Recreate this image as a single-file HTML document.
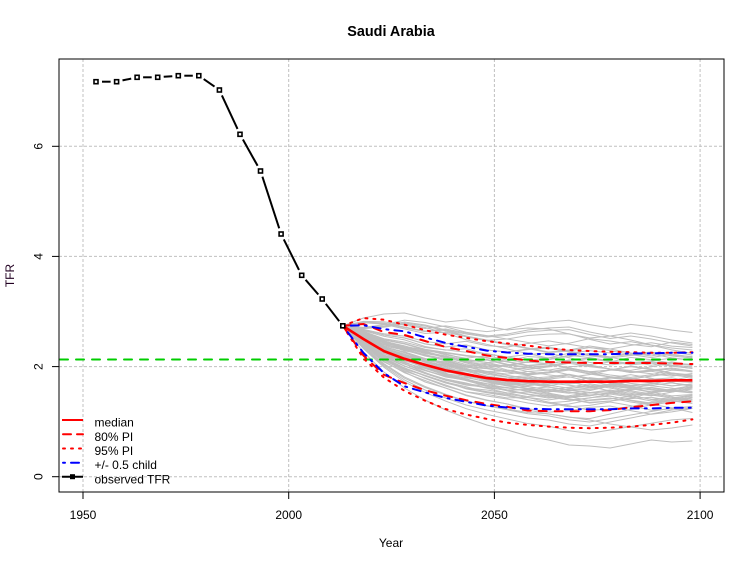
<!DOCTYPE html>
<html>
<head>
<meta charset="utf-8">
<style>
  html,body{margin:0;padding:0;background:#fff;}
  svg{display:block;}
  text{font-family:"Liberation Sans",Arial,sans-serif;fill:#000;}
  .gr polyline{fill:none;stroke:#bebebe;stroke-width:1;vector-effect:non-scaling-stroke;}
</style>
</head>
<body>
<svg width="755" height="566" viewBox="0 0 755 566" xmlns="http://www.w3.org/2000/svg">
  <rect x="0" y="0" width="755" height="566" fill="#fff"/>

  <!-- title -->
  <text x="391" y="36" text-anchor="middle" font-size="14.4" font-weight="bold">Saudi Arabia</text>

  <!-- grid -->
  <g stroke="#c0c0c0" stroke-width="1" stroke-dasharray="3 2" fill="none">
    <line x1="83" y1="59" x2="83" y2="492"/>
    <line x1="288.7" y1="59" x2="288.7" y2="492"/>
    <line x1="494.4" y1="59" x2="494.4" y2="492"/>
    <line x1="700.1" y1="59" x2="700.1" y2="492"/>
    <line x1="59" y1="476.7" x2="724" y2="476.7"/>
    <line x1="59" y1="366.6" x2="724" y2="366.6"/>
    <line x1="59" y1="256.4" x2="724" y2="256.4"/>
    <line x1="59" y1="146.3" x2="724" y2="146.3"/>
  </g>

  <!-- gray trajectories -->
  <g class="gr">
    <polyline points="342.8,325.8 363.4,318 383.9,314 404.5,313 425.1,318 445.6,322 466.2,320 486.8,326 507.3,330 527.9,328 548.5,329 569,334 589.6,338 610.1,336 630.7,340 651.3,345 671.8,348 692.4,350"/>
    <polyline points="342.8,325.8 363.4,352 383.9,372 404.5,388 425.1,400 445.6,410 466.2,418 486.8,425 507.3,430 527.9,436 548.5,440 569,445 589.6,446 610.1,448 630.7,444 651.3,440 671.8,442 692.4,441"/>
    <polyline points="342.8,325.8 363.4,346 383.9,362 404.5,372 425.1,382 445.6,388 466.2,395 486.8,400 507.3,404 527.9,410 548.5,414 569,417 589.6,420 610.1,424 630.7,427 651.3,430 671.8,428 692.4,425"/>
  </g>
  <defs>
    <g id="traj" class="gr">
      <polyline points="342.8,325.8 363.4,322 383.9,323 404.5,327 425.1,331 445.6,329 466.2,333 486.8,336 507.3,334 527.9,330 548.5,328 569,327 589.6,332 610.1,336 630.7,333 651.3,336 671.8,340 692.4,343"/>
      <polyline points="342.8,325.8 363.4,330 383.9,335 404.5,338 425.1,344 445.6,347 466.2,345 486.8,350 507.3,352 527.9,349 548.5,347 569,351 589.6,355 610.1,357 630.7,354 651.3,352 671.8,356 692.4,358"/>
      <polyline points="342.8,325.8 363.4,334 383.9,342 404.5,349 425.1,352 445.6,358 466.2,362 486.8,360 507.3,365 527.9,368 548.5,366 569,362 589.6,365 610.1,369 630.7,372 651.3,370 671.8,368 692.4,371"/>
      <polyline points="342.8,325.8 363.4,338 383.9,348 404.5,354 425.1,362 445.6,365 466.2,370 486.8,376 507.3,379 527.9,377 548.5,381 569,384 589.6,382 610.1,378 630.7,380 651.3,383 671.8,386 692.4,384"/>
      <polyline points="342.8,325.8 363.4,341 383.9,355 404.5,362 425.1,370 445.6,377 466.2,380 486.8,384 507.3,388 527.9,391 548.5,389 569,392 589.6,395 610.1,393 630.7,390 651.3,388 671.8,391 692.4,393"/>
      <polyline points="342.8,325.8 363.4,344 383.9,360 404.5,371 425.1,378 445.6,385 466.2,392 486.8,396 507.3,399 527.9,403 548.5,406 569,404 589.6,400 610.1,398 630.7,402 651.3,405 671.8,402 692.4,398"/>
      <polyline points="342.8,325.8 363.4,348 383.9,366 404.5,380 425.1,390 445.6,398 466.2,405 486.8,410 507.3,414 527.9,418 548.5,420 569,424 589.6,426 610.1,422 630.7,418 651.3,414 671.8,410 692.4,408"/>
      <polyline points="342.8,325.8 363.4,336 383.9,346 404.5,350 425.1,356 445.6,360 466.2,366 486.8,368 507.3,372 527.9,375 548.5,373 569,370 589.6,374 610.1,377 630.7,379 651.3,376 671.8,373 692.4,375"/>
      <polyline points="342.8,325.8 363.4,340 383.9,352 404.5,361 425.1,366 445.6,372 466.2,375 486.8,381 507.3,385 527.9,384 548.5,387 569,390 589.6,388 610.1,385 630.7,387 651.3,390 671.8,392 692.4,389"/>
      <polyline points="342.8,325.8 363.4,332 383.9,340 404.5,344 425.1,350 445.6,353 466.2,356 486.8,358 507.3,362 527.9,366 548.5,364 569,360 589.6,358 610.1,361 630.7,364 651.3,362 671.8,365 692.4,367"/>
      <polyline points="342.8,325.8 363.4,328 383.9,326 404.5,322 425.1,325 445.6,330 466.2,336 486.8,340 507.3,344 527.9,348 548.5,352 569,350 589.6,346 610.1,349 630.7,353 651.3,356 671.8,352 692.4,355"/>
      <polyline points="342.8,325.8 363.4,337 383.9,349 404.5,357 425.1,361 445.6,366 466.2,371 486.8,373 507.3,377 527.9,380 548.5,378 569,375 589.6,379 610.1,383 630.7,386 651.3,384 671.8,380 692.4,382"/>
      <polyline points="342.8,325.8 363.4,343 383.9,357 404.5,366 425.1,373 445.6,379 466.2,383 486.8,388 507.3,390 527.9,394 548.5,397 569,400 589.6,398 610.1,394 630.7,397 651.3,401 671.8,399 692.4,396"/>
      <polyline points="342.8,325.8 363.4,335 383.9,343 404.5,348 425.1,353 445.6,357 466.2,363 486.8,367 507.3,366 527.9,362 548.5,364 569,368 589.6,372 610.1,370 630.7,366 651.3,369 671.8,373 692.4,376"/>
      <polyline points="342.8,325.8 363.4,339 383.9,350 404.5,357 425.1,364 445.6,370 466.2,377 486.8,382 507.3,386 527.9,389 548.5,392 569,389 589.6,385 610.1,388 630.7,392 651.3,395 671.8,398 692.4,402"/>
      <polyline points="342.8,325.8 363.4,345 383.9,358 404.5,368 425.1,376 445.6,383 466.2,388 486.8,390 507.3,393 527.9,392 548.5,396 569,399 589.6,403 610.1,401 630.7,398 651.3,393 671.8,390 692.4,387"/>
    </g>
  </defs>
  <use href="#traj"/>
  <use href="#traj" transform="matrix(1,0.03,0,1,0,-10.28)"/>
  <use href="#traj" transform="matrix(1,-0.03,0,1,0,10.28)"/>
  <use href="#traj" transform="matrix(1,0.012,0,0.93,0,18.69)"/>

  <!-- green reference line -->
  <line x1="60" y1="359.5" x2="724" y2="359.5" stroke="#00cd00" stroke-width="2" stroke-dasharray="8 8" stroke-linecap="round"/>

  <!-- 95% PI dotted -->
  <g fill="none" stroke="#ff0000" stroke-width="2" stroke-dasharray="2 6" stroke-linecap="round">
    <polyline points="342.8,325.8 363.4,318.1 383.9,319.7 404.5,324.7 425.1,330.2 445.6,334.6 466.2,337.9 486.8,341.2 507.3,343.4 527.9,345.6 548.5,348.4 569,350 589.6,351.1 610.1,351.7 630.7,352.2 651.3,352.8 671.8,352.8 692.4,352.2"/>
    <polyline points="342.8,325.8 363.4,358.3 383.9,377.6 404.5,390.8 425.1,400.7 445.6,409 466.2,414.5 486.8,418.9 507.3,422.7 527.9,424.9 548.5,426.6 569,427.7 589.6,428.2 610.1,427.7 630.7,426.6 651.3,424.9 671.8,422.7 692.4,419.4"/>
  </g>
  <!-- 80% PI dashed -->
  <g fill="none" stroke="#ff0000" stroke-width="2" stroke-dasharray="8 8" stroke-linecap="round">
    <polyline points="342.8,325.8 363.4,324 383.9,332 404.5,335 425.1,341 445.6,347 466.2,351 486.8,355.5 507.3,358 527.9,360.5 548.5,362 569,362.5 589.6,363 610.1,363 630.7,363 651.3,363 671.8,363.5 692.4,364"/>
    <polyline points="342.8,325.8 363.4,355.5 383.9,374.8 404.5,383.1 425.1,390.2 445.6,395.7 466.2,400.2 486.8,404 507.3,406.8 527.9,410.6 548.5,411.2 569,411.2 589.6,411.2 610.1,410.1 630.7,407.3 651.3,405.1 671.8,402.9 692.4,401.3"/>
  </g>
  <!-- +/- 0.5 child dot-dash -->
  <g fill="none" stroke="#0000ff" stroke-width="2" stroke-dasharray="2 6 8 6" stroke-linecap="round">
    <polyline points="342.8,325.8 363.4,325.2 383.9,329.1 404.5,331.3 425.1,337.4 445.6,342.9 466.2,346.8 486.8,350.6 507.3,352.5 527.9,353.7 548.5,354.2 569,354.2 589.6,354.2 610.1,354.2 630.7,353.4 651.3,353.4 671.8,352.8 692.4,352.8"/>
    <polyline points="342.8,325.8 363.4,352.8 383.9,373.1 404.5,386.3 425.1,392.4 445.6,397.9 466.2,401.8 486.8,405.6 507.3,407.5 527.9,408.7 548.5,409.2 569,409.2 589.6,409.2 610.1,409.2 630.7,408.4 651.3,408.4 671.8,407.8 692.4,407.8"/>
  </g>
  <!-- median -->
  <polyline fill="none" stroke="#ff0000" stroke-width="2.6" stroke-linejoin="round" points="342.8,325.8 363.4,339 383.9,351.1 404.5,358.8 425.1,364.9 445.6,370.4 466.2,374.3 486.8,378.1 507.3,380.05 527.9,381.2 548.5,381.7 569,381.7 589.6,381.7 610.1,381.7 630.7,380.9 651.3,380.9 671.8,380.3 692.4,380.3"/>

  <!-- observed TFR (type b) -->
  <g stroke="#000" stroke-width="2" stroke-linecap="butt" fill="none">
    <line x1="102" y1="81.7" x2="110.6" y2="81.7"/>
    <line x1="122.5" y1="80.4" x2="131.2" y2="78.6"/>
    <line x1="143.1" y1="77.3" x2="151.7" y2="77.3"/>
    <line x1="163.7" y1="76.8" x2="172.3" y2="76.2"/>
    <line x1="184.3" y1="75.7" x2="192.8" y2="75.7"/>
    <line x1="203.7" y1="79.1" x2="214.5" y2="86.6"/>
    <line x1="221.9" y1="95.4" x2="237.5" y2="128.9"/>
    <line x1="242.9" y1="139.5" x2="257.6" y2="165.8"/>
    <line x1="262.4" y1="176.7" x2="279.2" y2="228.3"/>
    <line x1="283.8" y1="239.4" x2="299" y2="269.9"/>
    <line x1="305.6" y1="279.8" x2="318.3" y2="294.5"/>
    <line x1="325.8" y1="303.8" x2="339.2" y2="321.2"/>
  </g>
  <g fill="#fff" stroke="#000" stroke-width="1.6">
    <rect x="94" y="79.7" width="4" height="4"/>
    <rect x="114.6" y="79.7" width="4" height="4"/>
    <rect x="135.1" y="75.3" width="4" height="4"/>
    <rect x="155.7" y="75.3" width="4" height="4"/>
    <rect x="176.3" y="73.7" width="4" height="4"/>
    <rect x="196.8" y="73.7" width="4" height="4"/>
    <rect x="217.4" y="88" width="4" height="4"/>
    <rect x="238" y="132.3" width="4" height="4"/>
    <rect x="258.5" y="169" width="4" height="4"/>
    <rect x="279.1" y="232" width="4" height="4"/>
    <rect x="299.7" y="273.3" width="4" height="4"/>
    <rect x="320.2" y="297" width="4" height="4"/>
    <rect x="340.8" y="323.8" width="4" height="4"/>
  </g>

  <!-- plot frame -->
  <rect x="59" y="59" width="665" height="433" fill="none" stroke="#000" stroke-width="1"/>

  <!-- axes ticks -->
  <g stroke="#000" stroke-width="1">
    <line x1="83" y1="492" x2="83" y2="499"/>
    <line x1="288.7" y1="492" x2="288.7" y2="499"/>
    <line x1="494.4" y1="492" x2="494.4" y2="499"/>
    <line x1="700.1" y1="492" x2="700.1" y2="499"/>
    <line x1="52" y1="476.7" x2="59" y2="476.7"/>
    <line x1="52" y1="366.6" x2="59" y2="366.6"/>
    <line x1="52" y1="256.4" x2="59" y2="256.4"/>
    <line x1="52" y1="146.3" x2="59" y2="146.3"/>
  </g>
  <g font-size="12" text-anchor="middle">
    <text x="83" y="519">1950</text>
    <text x="288.7" y="519">2000</text>
    <text x="494.4" y="519">2050</text>
    <text x="700.1" y="519">2100</text>
    <text transform="translate(42.3,476.7) rotate(-90)">0</text>
    <text transform="translate(42.3,366.6) rotate(-90)">2</text>
    <text transform="translate(42.3,256.4) rotate(-90)">4</text>
    <text transform="translate(42.3,146.3) rotate(-90)">6</text>
    <text x="391" y="547">Year</text>
    <text transform="translate(14,275.5) rotate(-90)" style="fill:#220022">TFR</text>
  </g>

  <!-- legend -->
  <g fill="none" stroke-width="2" stroke-linecap="round">
    <line x1="62" y1="420" x2="83" y2="420" stroke="#ff0000" stroke-linecap="butt"/>
    <line x1="63" y1="434.3" x2="83" y2="434.3" stroke="#ff0000" stroke-dasharray="8 6"/>
    <line x1="63" y1="448.5" x2="83" y2="448.5" stroke="#ff0000" stroke-dasharray="2 6"/>
    <line x1="63" y1="462.7" x2="83" y2="462.7" stroke="#0000ff" stroke-dasharray="2 6 8 6"/>
    <line x1="62" y1="476.7" x2="83" y2="476.7" stroke="#000" stroke-linecap="butt"/>
  </g>
  <rect x="70" y="474.2" width="5" height="5" fill="#000"/>
  <g font-size="12">
    <text x="94.5" y="426.5">median</text>
    <text x="94.5" y="440.8">80% PI</text>
    <text x="94.5" y="455">95% PI</text>
    <text x="94.5" y="469.2">+/- 0.5 child</text>
    <text x="94.5" y="483.4">observed TFR</text>
  </g>
</svg>
</body>
</html>
